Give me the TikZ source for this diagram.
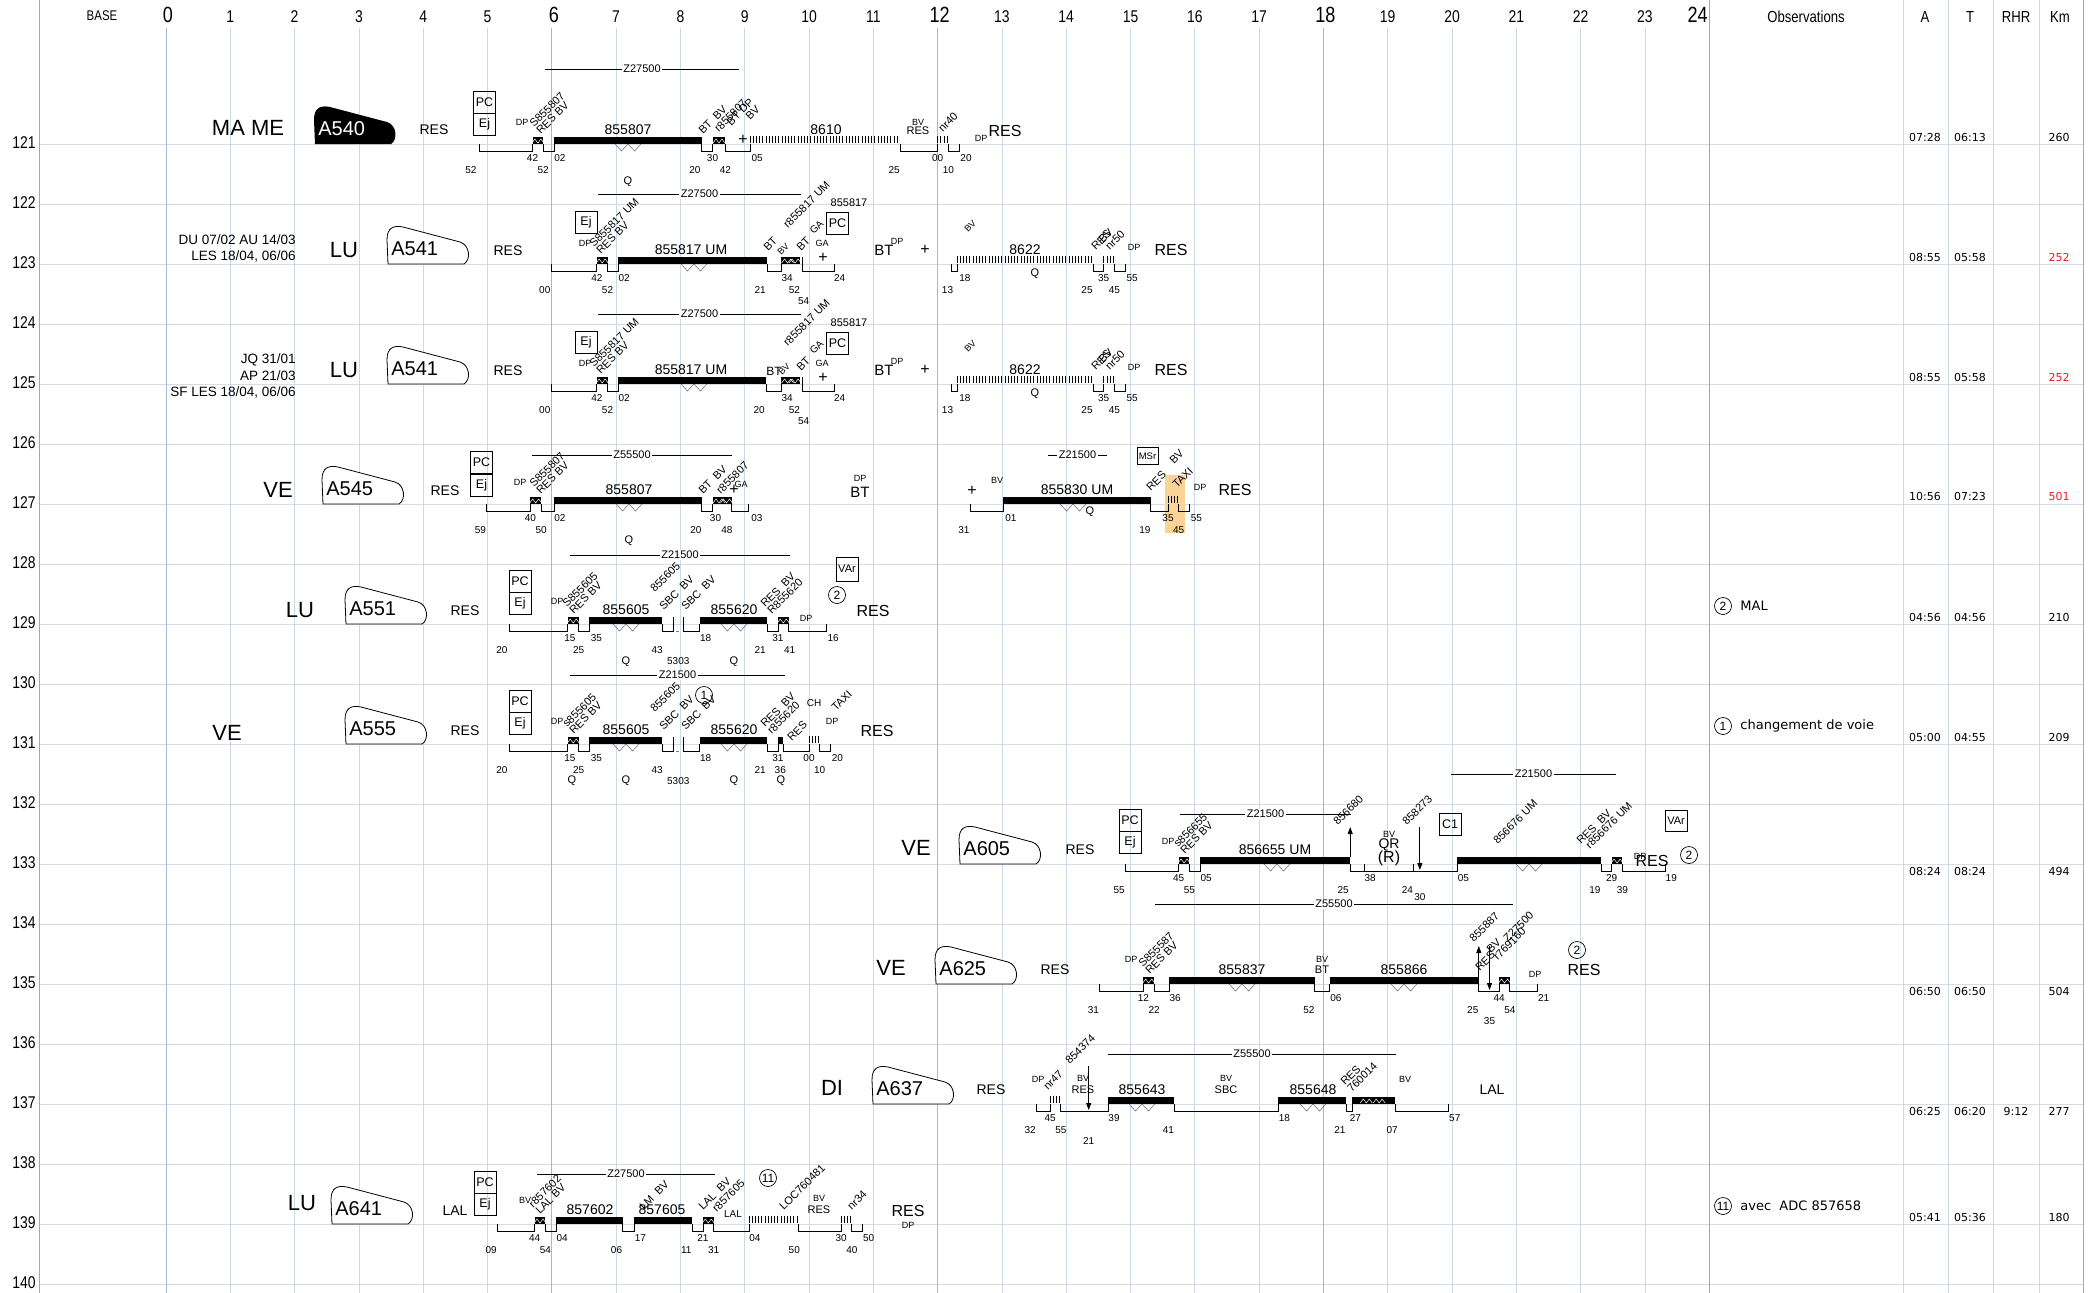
\documentclass[tikz,border=0pt]{standalone}
\usepackage{fontspec}
\usepackage{graphicx}
\setmainfont{Liberation Sans}
\newfontfamily\dejavu{DejaVu Sans}
\usetikzlibrary{arrows.meta,positioning}

\newcommand{\fs}[1]{\fontsize{#1}{#1}\selectfont}
\newcommand{\narrow}[1]{\scalebox{0.82}[1]{#1}}

\definecolor{gridh}{RGB}{212,220,234}
\definecolor{gridv}{RGB}{206,215,230}
\definecolor{gridmaj}{RGB}{170,180,212}
\definecolor{gridblue}{RGB}{158,160,230}
\definecolor{hilite}{RGB}{250,212,150}
\definecolor{kmred}{RGB}{236,28,36}

\tikzset{every picture/.style={line width=0.8pt},
  tlab/.style={font=\fs{10},inner sep=0pt},
  sml/.style={font=\fs{9},inner sep=0pt},
  trn/.style={font=\fs{14},inner sep=0pt},
  qlab/.style={font=\fs{11},inner sep=0pt},
  daylbl/.style={font=\fs{22},inner sep=0pt},
  restxt/.style={font=\fs{14},inner sep=0pt},
  bigres/.style={font=\fs{16},inner sep=0pt},
  plussym/.style={font=\fs{16},inner sep=0pt},
  bttxt/.style={font=\fs{15},inner sep=0pt},
  datetxt/.style={font=\fs{13.5},inner sep=0pt,anchor=east},
  badgetxt/.style={font=\fs{20},inner sep=0pt,anchor=west},
  rotl/.style={rotate=45,anchor=south west,align=left,inner sep=0.5pt,font=\fontsize{11}{9.5}\selectfont},
  sbox/.style={draw,line width=0.7pt,minimum width=22,minimum height=22,inner sep=0pt,font=\fs{12.5}},
  circnum/.style={draw,circle,line width=0.7pt,minimum size=17,inner sep=0pt,font=\fs{12}},
  zlab/.style={font=\fs{11},fill=white,inner sep=1.5pt},
  mealc/.style={line width=0.5pt,draw=black!60},
  arr/.style={-{Triangle[length=7pt,width=5pt]},line width=0.8pt},
  rval/.style={font=\dejavu\fs{11},inner sep=0pt},
  obs/.style={font=\dejavu\fs{13},inner sep=0pt,anchor=west},
  hdr/.style={font=\fs{16},inner sep=0pt},
}

% service pieces, \Y is the row line
\newcommand{\trb}[2]{\fill ({tx(#1)},\Y-7) rectangle ({tx(#2)},\Y);}
\newcommand{\gapb}[2]{\draw ({tx(#1)},\Y) -- ({tx(#1)},\Y+7) -- ({tx(#2)},\Y+7) -- ({tx(#2)},\Y);}
\newcommand{\hatch}[2]{\pgfmathsetmacro\xa{tx(#1)}\pgfmathsetmacro\xb{tx(#2)}\pgfmathsetmacro\xs{\xa+3.2}%
  \foreach \xx in {\xa,\xs,...,\xb} {\draw (\xx,\Y-8) -- (\xx,\Y-1);}}
\newcommand{\upl}[3][0]{\node[tlab] at ({tx(#2)+(#1)},\Y+14) {#3};}
\newcommand{\lol}[3][0]{\node[tlab] at ({tx(#2)+(#1)},\Y+26) {#3};}
\newcommand{\thl}[3][0]{\node[tlab] at ({tx(#2)+(#1)},\Y+37) {#3};}
\newcommand{\tiltl}[4][]{\node[rotl,#1] at (#2,\Y+#3) {#4};}
\newcommand{\meal}[1]{\draw[mealc] (#1-13,\Y) -- ++(6.5,7) -- ++(6.5,-7) -- ++(6.5,7) -- ++(6.5,-7);}
\newcommand{\wmeal}[1]{\draw[white,line width=0.5pt] ({tx(#1)-6},\Y-1) -- ++(3,-4) -- ++(3,4) -- ++(3,-4) -- ++(3,4);}
\newcommand{\badge}[2][draw=black,fill=white]{%
  \path[#1,line width=0.8pt] (#2+1,\Y) -- (#2,\Y-24) .. controls (#2,\Y-36) and (#2+6,\Y-39) .. (#2+16,\Y-37)
    -- (#2+73,\Y-22) .. controls (#2+83,\Y-19) and (#2+84,\Y-4) .. (#2+77,\Y) -- cycle;}
\newcommand{\zline}[4]{\draw (#1,\Y+#3) -- (#2,\Y+#3) node[zlab,midway] {#4};}
\newcommand{\rvals}[6]{\node[rval] at (1925,\Y+#1) {#2}; \node[rval] at (1970,\Y+#1) {#3};
  \node[rval] at (2016,\Y+#1) {#4}; \node[rval,text=#6] at (2059,\Y+#1) {#5};}

\begin{document}
\begin{tikzpicture}[x=1pt,y=1pt,yscale=-1,declare function={tx(\h,\m)=166+64.3*(\h+\m/60);}]
\useasboundingbox (0,0) rectangle (2094,1293);

% grid
\foreach \n in {121,...,140} {
  \pgfmathsetmacro\yy{144+60*(\n-121)}
  \draw[gridh] (39,\yy) -- (2083,\yy);
  \node[font=\fs{17},inner sep=0pt] at (24,\yy-1) {\narrow{\n}};
}
\foreach \h in {1,...,23} {\draw[gridv] ({tx(\h,0)},28) -- ({tx(\h,0)},1293);}
\foreach \h in {0,6,12,18} {\draw[gridmaj] ({tx(\h,0)},28) -- ({tx(\h,0)},1293);}
\foreach \xx in {1903,1948,1993,2039} {\draw[gridv] (\xx,0) -- (\xx,1293);}
\foreach \xx in {39,1709,2083} {\draw[gridblue] (\xx,0) -- (\xx,1293);}

% header
\node[font=\fs{14},inner sep=0pt] (base) at (102,16) {\narrow{BASE}};
\foreach \h in {1,...,5,7,8,...,11,13,14,...,17,19,20,...,23} {\node[font=\fs{17},inner sep=0pt] at ({tx(\h,0)},17) {\narrow{\h}};}
\foreach \h in {0,6,12,18} {\node[font=\fs{22},inner sep=0pt] at ({tx(\h,0)+2},15) {\narrow{\h}};}
\node[font=\fs{22},inner sep=0pt,anchor=east] (h24) at (1708,15) {\narrow{24}};
\node[hdr] (hobs) at (1806,17) {\narrow{Observations}};
\node[hdr] (ha) at (1925,17) {\narrow{A}};
\node[hdr] (ht) at (1970,17) {\narrow{T}};
\node[hdr] (hrhr) at (2016,17) {\narrow{RHR}};
\node[hdr] (hkm) at (2060,17) {\narrow{Km}};

%%%% row 121 : A540
\def\Y{144}
\node[daylbl] (d121) at (248,\Y-16) {MA ME};
\badge[fill=black]{314}
\node[badgetxt,text=white] (b121) at (318,\Y-15) {A540};
\node[restxt] (r121) at (434,\Y-14) {RES};
\node[sbox] (pc121) at (484.5,\Y-42) {PC};
\node[sbox,below=0pt of pc121] (ej121) {Ej};
\node[sml] at (522,\Y-22) {DP};
\zline{545}{739}{-75}{Z27500}
\gapb{4,52}{5,42} \trb{5,42}{5,52} \wmeal{5,47} \gapb{5,52}{6,2} \trb{6,2}{8,20}
\gapb{8,20}{8,30} \trb{8,30}{8,42} \wmeal{8,36} \gapb{8,42}{9,5} \hatch{9,5}{11,25}
\gapb{11,25}{12,0} \hatch{12,0}{12,10} \gapb{12,10}{12,20}
\lol[-8]{4,52}{52} \upl{5,42}{42} \lol{5,52}{52} \upl[6]{6,2}{02} \lol[-7]{8,20}{20}
\upl{8,30}{30} \lol{8,42}{42} \upl[7]{9,5}{05} \lol[-6]{11,25}{25} \upl{12,0}{00}
\lol{12,10}{10} \upl[7]{12,20}{20}
\node[trn] at (628,\Y-14) {855807}; \meal{628} \node[qlab] at (628,\Y+38) {Q};
\node[plussym] at (743,\Y-4) {+};
\node[trn] at (826,\Y-14) {8610};
\tiltl{541}{-8}{S855807\\RES BV}
\tiltl{703}{-8}{BT\ \ BV}
\tiltl{719}{-10}{r855807}
\tiltl{738}{-10}{BT\ DP\\\hphantom{BT\ }BV}
\tiltl{943}{-10}{nr40}
\node[sml] at (918,\Y-22) {BV}; \node[font=\fs{11},inner sep=0pt] at (918,\Y-13) {RES};
\node[sml] at (981,\Y-6) {DP}; \node[bigres] (e121) at (1005,\Y-13) {RES};
\rvals{-7}{07:28}{06:13}{}{260}{black}

%%%% row 123 : A541
\def\Y{264}
\node[datetxt] at (296,\Y-24) {DU 07/02 AU 14/03};
\node[datetxt] at (296,\Y-8) {LES 18/04, 06/06};
\node[daylbl] (d123) at (344,\Y-14) {LU};
\badge{387}
\node[badgetxt] (b123) at (391,\Y-15) {A541};
\node[restxt] (r123) at (508,\Y-13) {RES};
\node[sbox] (ej123) at (586,\Y-41.5) {Ej};
\node[sml] at (585,\Y-21) {DP};
\zline{598}{801}{-70}{Z27500}
\gapb{6,0}{6,42} \trb{6,42}{6,52} \wmeal{6,47} \gapb{6,52}{7,2} \trb{7,2}{9,21}
\gapb{9,21}{9,34} \trb{9,34}{9,52} \wmeal{9,40} \wmeal{9,47} \draw ({tx(9,54)},\Y-7) -- ({tx(9,54)},\Y);
\gapb{9,54}{10,24}
\gapb{12,13}{12,18} \hatch{12,18}{14,25} \gapb{14,25}{14,35} \hatch{14,35}{14,45} \gapb{14,45}{14,55}
\lol[-7]{6,0}{00} \upl{6,42}{42} \lol{6,52}{52} \upl[6]{7,2}{02} \lol[-7]{9,21}{21}
\upl[6]{9,34}{34} \lol[-6]{9,52}{52} \thl[1]{9,54}{54} \upl[5]{10,24}{24}
\lol[-4]{12,13}{13} \upl[8]{12,18}{18} \lol[-6]{14,25}{25} \upl{14,35}{35} \lol{14,45}{45} \upl[7]{14,55}{55}
\node[trn] at (691,\Y-14) {855817 UM}; \meal{694}
\tiltl{601}{-8}{S855817 UM\\RES BV}
\tiltl{768}{-11}{BT} \tiltl[font=\fs{9}]{781}{-7}{BV}
\tiltl{788}{-34}{r855817 UM}
\tiltl{801}{-11}{BT} \node[sml] at (822,\Y-21) {GA}; \tiltl[font=\fs{10}]{814}{-28}{GA}
\node[sbox] (pc123) at (837.5,\Y-41) {PC};
\node[font=\fs{11},inner sep=0pt] at (849,\Y-61) {855817};
\node[plussym] at (823,\Y-6) {+};
\node[bttxt] at (884,\Y-14) {BT}; \node[sml] at (897,\Y-23) {DP};
\node[plussym] at (925,\Y-14) {+};
\tiltl[font=\fs{9}]{968}{-30}{BV}
\node[trn] at (1025,\Y-14) {8622}; \node[qlab] at (1035,\Y+10) {Q};
\tiltl{1096}{-12}{RES} \tiltl{1110}{-12}{BV\\nr50}
\node[sml] at (1134,\Y-17) {DP}; \node[bigres] (e123) at (1171,\Y-14) {RES};
\rvals{-7}{08:55}{05:58}{}{252}{kmred}

%%%% row 125 : A541
\def\Y{384}
\node[datetxt] at (296,\Y-24) {JQ 31/01};
\node[datetxt] at (296,\Y-8) {AP 21/03};
\node[datetxt] at (296,\Y+8) {SF LES 18/04, 06/06};
\node[daylbl] (d125) at (344,\Y-14) {LU};
\badge{387}
\node[badgetxt] (b125) at (391,\Y-15) {A541};
\node[restxt] (r125) at (508,\Y-13) {RES};
\node[sbox] (ej125) at (586,\Y-41.5) {Ej};
\node[sml] at (585,\Y-21) {DP};
\zline{598}{801}{-70}{Z27500}
\gapb{6,0}{6,42} \trb{6,42}{6,52} \wmeal{6,47} \gapb{6,52}{7,2} \trb{7,2}{9,20}
\gapb{9,20}{9,34} \trb{9,34}{9,52} \wmeal{9,40} \wmeal{9,47} \draw ({tx(9,54)},\Y-7) -- ({tx(9,54)},\Y);
\gapb{9,54}{10,24}
\gapb{12,13}{12,18} \hatch{12,18}{14,25} \gapb{14,25}{14,35} \hatch{14,35}{14,45} \gapb{14,45}{14,55}
\lol[-7]{6,0}{00} \upl{6,42}{42} \lol{6,52}{52} \upl[6]{7,2}{02} \lol[-7]{9,20}{20}
\upl[6]{9,34}{34} \lol[-6]{9,52}{52} \thl[1]{9,54}{54} \upl[5]{10,24}{24}
\lol[-4]{12,13}{13} \upl[8]{12,18}{18} \lol[-6]{14,25}{25} \upl{14,35}{35} \lol{14,45}{45} \upl[7]{14,55}{55}
\node[trn] at (691,\Y-14) {855817 UM}; \meal{694}
\tiltl{601}{-8}{S855817 UM\\RES BV}
\node[font=\fs{12},inner sep=0pt] at (774,\Y-13) {BT}; \tiltl[font=\fs{9}]{782}{-7}{BV}
\tiltl{788}{-36}{r855817 UM}
\tiltl{801}{-11}{BT} \node[sml] at (822,\Y-21) {GA}; \tiltl[font=\fs{10}]{814}{-28}{GA}
\node[sbox] (pc125) at (837.5,\Y-41) {PC};
\node[font=\fs{11},inner sep=0pt] at (849,\Y-61) {855817};
\node[plussym] at (823,\Y-6) {+};
\node[bttxt] at (884,\Y-14) {BT}; \node[sml] at (897,\Y-23) {DP};
\node[plussym] at (925,\Y-14) {+};
\tiltl[font=\fs{9}]{968}{-30}{BV}
\node[trn] at (1025,\Y-14) {8622}; \node[qlab] at (1035,\Y+10) {Q};
\tiltl{1096}{-12}{RES} \tiltl{1110}{-12}{BV\\nr50}
\node[sml] at (1134,\Y-17) {DP}; \node[bigres] (e125) at (1171,\Y-14) {RES};
\rvals{-7}{08:55}{05:58}{}{252}{kmred}

%%%% row 127 : A545
\def\Y{504}
\fill[hilite] (1165,\Y-29) rectangle (1185,\Y+29);
\node[daylbl] (d127) at (278,\Y-14) {VE};
\badge{322}
\node[badgetxt] (b127) at (326,\Y-15) {A545};
\node[restxt] (r127) at (445,\Y-13) {RES};
\node[sbox] (pc127) at (481.5,\Y-41.5) {PC};
\node[sbox,below=0pt of pc127] (ej127) {Ej};
\node[sml] at (520,\Y-22) {DP};
\zline{532}{732}{-49}{Z55500}
\gapb{4,59}{5,40} \trb{5,40}{5,50} \wmeal{5,45} \gapb{5,50}{6,2} \trb{6,2}{8,20}
\gapb{8,20}{8,30} \trb{8,30}{8,48} \wmeal{8,36} \wmeal{8,43} \gapb{8,48}{9,3}
\lol[-6]{4,59}{59} \upl{5,40}{40} \lol{5,50}{50} \upl[6]{6,2}{02} \lol[-6]{8,20}{20}
\upl[3]{8,30}{30} \lol[-5]{8,48}{48} \upl[9]{9,3}{03}
\node[trn] at (629,\Y-14) {855807}; \meal{629} \node[qlab] at (629,\Y+37) {Q};
\node[plussym] at (734,\Y-14) {+};
\tiltl{541}{-8}{S855807\\RES BV}
\tiltl{703}{-8}{BT\ \ BV}
\tiltl{721}{-8}{r855807} \node[sml] at (741,\Y-20) {GA};
\node[sml] at (860,\Y-26) {DP}; \node[bttxt] at (860,\Y-12) {BT};
\node[plussym] at (972,\Y-13) {+};
\gapb{12,31}{13,1} \trb{13,1}{15,19} \gapb{15,19}{15,35} \hatch{15,35}{15,45} \gapb{15,45}{15,55}
\lol[-7]{12,31}{31} \upl[8]{13,1}{01} \lol[-6]{15,19}{19} \upl{15,35}{35} \lol{15,45}{45} \upl[7]{15,55}{55}
\node[sml] at (997,\Y-24) {BV};
\node[trn] at (1077,\Y-14) {855830 UM}; \meal{1073} \node[qlab] at (1090,\Y+8) {Q};
\zline{1048}{1107}{-49}{Z21500}
\node[sbox,minimum width=21,minimum height=17,font=\fs{9.5}] (msr127) at (1147.5,\Y-48) {MSr};
\tiltl{1151}{-11}{RES}
\tiltl{1174}{-38}{BV}
\tiltl{1177}{-14}{TAXI}
\node[sml] at (1200,\Y-17) {DP}; \node[bigres] (e127) at (1235,\Y-14) {RES};
\rvals{-8}{10:56}{07:23}{}{501}{kmred}

%%%% row 129 : A551
\def\Y{624}
\node[daylbl] (d129) at (300,\Y-14) {LU};
\badge{345}
\node[badgetxt] (b129) at (349,\Y-15) {A551};
\node[restxt] (r129) at (465,\Y-13) {RES};
\node[sbox] (pc129) at (520,\Y-43) {PC};
\node[sbox,below=0pt of pc129] (ej129) {Ej};
\node[sml] at (557,\Y-23) {DP};
\zline{570}{790}{-69}{Z21500}
\gapb{5,20}{6,15} \trb{6,15}{6,25} \wmeal{6,20} \gapb{6,25}{6,35} \trb{6,35}{7,43} \gapb{7,43}{7,53}
\draw ({tx(7,53)},\Y-7) -- ({tx(7,53)},\Y+7); \draw[gray] ({tx(7,56)},\Y+7) -- ({tx(7,59)},\Y+7);
\draw ({tx(8,3)},\Y-7) -- ({tx(8,3)},\Y);
\gapb{8,3}{8,18} \trb{8,18}{9,21} \gapb{9,21}{9,31} \trb{9,31}{9,41} \wmeal{9,36} \gapb{9,41}{10,16}
\lol[-7]{5,20}{20} \upl[2]{6,15}{15} \lol{6,25}{25} \upl[7]{6,35}{35} \lol[-5]{7,43}{43}
\thl{7,58}{5303} \upl[6]{8,18}{18} \lol[-7]{9,21}{21} \upl{9,31}{31} \lol[1]{9,41}{41} \upl[7]{10,16}{16}
\node[trn] at (626,\Y-14) {855605}; \meal{626} \node[qlab] at (626,\Y+38) {Q};
\node[trn] at (734,\Y-14) {855620}; \meal{734} \node[qlab] at (734,\Y+38) {Q};
\tiltl{574}{-8}{S855605\\RES BV}
\tiltl{655}{-30}{855605}
\tiltl{664}{-12}{SBC\ \ BV}
\tiltl{686}{-12}{SBC\ \ BV}
\tiltl{772}{-8}{RES\ \ BV\\R855620}
\node[sml] at (806,\Y-6) {DP};
\node[sbox,minimum height=24,font=\fs{11}] (var129) at (847,\Y-55) {VAr};
\node[circnum] (c129) at (837,\Y-29) {2};
\node[bigres] (e129) at (873,\Y-13) {RES};
\node[circnum] (o129) at (1723,\Y-18) {2};
\node[obs] at (1740,\Y-18) {MAL};
\rvals{-7}{04:56}{04:56}{}{210}{black}

%%%% row 131 : A555
\def\Y{744}
\node[daylbl] (d131) at (227,\Y-11) {VE};
\badge{345}
\node[badgetxt] (b131) at (349,\Y-15) {A555};
\node[restxt] (r131) at (465,\Y-13) {RES};
\node[sbox] (pc131) at (520,\Y-43) {PC};
\node[sbox,below=0pt of pc131] (ej131) {Ej};
\node[sml] at (557,\Y-23) {DP};
\zline{570}{785}{-69}{Z21500}
\gapb{5,20}{6,15} \trb{6,15}{6,25} \wmeal{6,20} \gapb{6,25}{6,35} \trb{6,35}{7,43} \gapb{7,43}{7,53}
\draw ({tx(7,53)},\Y-7) -- ({tx(7,53)},\Y+7); \draw[gray] ({tx(7,56)},\Y+7) -- ({tx(7,59)},\Y+7);
\draw ({tx(8,3)},\Y-7) -- ({tx(8,3)},\Y);
\gapb{8,3}{8,18} \trb{8,18}{9,21} \gapb{9,21}{9,31} \trb{9,31}{9,36} \gapb{9,36}{10,0}
\hatch{10,0}{10,10} \gapb{10,10}{10,20}
\lol[-7]{5,20}{20} \upl[2]{6,15}{15} \lol{6,25}{25} \upl[7]{6,35}{35} \lol[-5]{7,43}{43}
\thl{7,58}{5303} \upl[6]{8,18}{18} \lol[-7]{9,21}{21} \upl{9,31}{31} \lol[-3]{9,36}{36}
\upl{10,0}{00} \lol{10,10}{10} \upl[7]{10,20}{20}
\node[trn] at (626,\Y-14) {855605}; \meal{626}
\node[trn] at (734,\Y-14) {855620}; \meal{734}
\foreach \qx in {572,626,734,781} {\node[qlab] at (\qx,\Y+37) {Q};}
\tiltl{574}{-8}{s855605\\RES BV}
\tiltl{655}{-30}{855605}
\tiltl{664}{-12}{SBC\ \ BV}
\tiltl{686}{-12}{SBC\ \ BV}
\node[circnum] (c131) at (704,\Y-49) {1};
\tiltl{772}{-8}{RES\ \ BV\\r855620}
\node[font=\fs{10},inner sep=0pt] at (814,\Y-41) {CH};
\tiltl{792}{-1}{RES}
\tiltl{836}{-31}{TAXI}
\node[sml] at (832,\Y-23) {DP};
\node[bigres] (e131) at (877,\Y-13) {RES};
\node[circnum] (o131) at (1723,\Y-18) {1};
\node[obs] at (1740,\Y-18) {changement de voie};
\rvals{-7}{05:00}{04:55}{}{209}{black}

%%%% row 133 : A605
\def\Y{864}
\node[daylbl] (d133) at (916,\Y-16) {VE};
\badge{959}
\node[badgetxt] (b133) at (963,\Y-15) {A605};
\node[restxt] (r133) at (1080,\Y-14) {RES};
\node[sbox] (pc133) at (1130,\Y-44) {PC};
\node[sbox,below=0pt of pc133] (ej133) {Ej};
\node[sml] at (1168,\Y-23) {DP};
\zline{1180}{1351}{-50}{Z21500}
\zline{1451}{1616}{-90}{Z21500}
\gapb{14,55}{15,45} \trb{15,45}{15,55} \wmeal{15,50} \gapb{15,55}{16,5} \trb{16,5}{18,25}
\gapb{18,25}{20,5} \draw ({tx(18,38)},\Y+7) -- ++(0,-7); \draw ({tx(19,24)},\Y+7) -- ++(0,-7);
\trb{20,5}{22,19} \gapb{22,19}{22,29} \trb{22,29}{22,39} \wmeal{22,34} \gapb{22,39}{23,19}
\draw[arr] ({tx(18,25)},\Y-7) -- ({tx(18,25)},\Y-37);
\draw[arr] ({tx(19,30)},\Y-37) -- ({tx(19,30)},\Y+6);
\lol[-6]{14,55}{55} \upl{15,45}{45} \lol{15,55}{55} \upl[6]{16,5}{05} \lol[-7]{18,25}{25}
\upl[6]{18,38}{38} \lol[-6]{19,24}{24} \node[tlab] at ({tx(19,30)},\Y+33) {30};
\upl[6]{20,5}{05} \lol[-6]{22,19}{19} \upl{22,29}{29} \lol{22,39}{39} \upl[6]{23,19}{19}
\node[trn] at (1275,\Y-14) {856655 UM}; \meal{1277}
\meal{1529}
\tiltl{1185}{-8}{s856655\\RES BV}
\tiltl{1338}{-37}{856680}
\tiltl{1407}{-37}{858273}
\node[sml] at (1389,\Y-30) {BV}; \node[trn] at (1389,\Y-19) {QR};
\node[font=\fs{16},inner sep=0pt] at (1389,\Y-6) {(R)};
\node[sbox] (c1133) at (1450,\Y-40) {C1};
\tiltl{1498}{-18}{856676 UM}
\tiltl{1588}{-11}{RES\ \ BV\\\ r856676 UM}
\node[sml] at (1640,\Y-8) {DP}; \node[bigres] (e133) at (1652,\Y-3) {RES};
\node[circnum] (c133) at (1689,\Y-9) {2};
\node[sbox,minimum height=21,font=\fs{11}] (var133) at (1676,\Y-43) {VAr};
\rvals{7}{08:24}{08:24}{}{494}{black}

%%%% row 135 : A625
\def\Y{984}
\node[daylbl] (d135) at (891,\Y-16) {VE};
\badge{935}
\node[badgetxt] (b135) at (939,\Y-15) {A625};
\node[restxt] (r135) at (1055,\Y-14) {RES};
\node[sml] at (1131,\Y-25) {DP};
\zline{1155}{1513}{-80}{Z55500}
\gapb{14,31}{15,12} \trb{15,12}{15,22} \wmeal{15,17} \gapb{15,22}{15,36} \trb{15,36}{17,52}
\gapb{17,52}{18,6} \trb{18,6}{20,25} \gapb{20,25}{20,44} \trb{20,44}{20,54} \wmeal{20,49} \gapb{20,54}{21,20}
\draw[arr] ({tx(20,25)},\Y-7) -- ({tx(20,25)},\Y-38);
\draw[arr] ({tx(20,35)},\Y-38) -- ({tx(20,35)},\Y+6);
\lol[-6]{14,31}{31} \upl{15,12}{12} \lol{15,22}{22} \upl[6]{15,36}{36} \lol[-6]{17,52}{52}
\upl[6]{18,6}{06} \lol[-6]{20,25}{25} \thl{20,35}{35} \upl{20,44}{44} \lol{20,54}{54} \upl[6]{21,20}{21}
\node[trn] at (1242,\Y-14) {855837}; \meal{1242}
\node[trn] at (1404,\Y-14) {855866}; \meal{1404}
\node[sml] at (1322,\Y-25) {BV}; \node[font=\fs{11},inner sep=0pt] at (1322,\Y-14) {BT};
\tiltl{1150}{-8}{S855587\\RES BV}
\tiltl{1474}{-40}{855887}
\tiltl{1480}{-11}{RES}
\tiltl{1498}{-22}{BV\\r769160}
\tiltl{1508}{-40}{Z27500}
\node[sml] at (1535,\Y-10) {DP};
\node[circnum] (c135) at (1577,\Y-34) {2};
\node[bigres] (e135) at (1584,\Y-14) {RES};
\rvals{7}{06:50}{06:50}{}{504}{black}

%%%% row 137 : A637
\def\Y{1104}
\node[daylbl] (d137) at (832,\Y-16) {DI};
\badge{872}
\node[badgetxt] (b137) at (876,\Y-15) {A637};
\node[restxt] (r137) at (991,\Y-14) {RES};
\node[sml] at (1038,\Y-25) {DP};
\zline{1108}{1396}{-50}{Z55500}
\gapb{13,32}{13,45} \hatch{13,45}{13,55} \gapb{13,55}{14,39}
\draw[arr] ({tx(14,21)},\Y-38) -- ({tx(14,21)},\Y+6);
\trb{14,39}{15,41} \gapb{15,41}{17,18} \trb{17,18}{18,21} \gapb{18,21}{18,27} \trb{18,27}{19,7}
\wmeal{18,40} \wmeal{18,52} \gapb{19,7}{19,57}
\lol[-6]{13,32}{32} \upl{13,45}{45} \lol{13,55}{55} \thl{14,21}{21} \upl[6]{14,39}{39}
\lol[-6]{15,41}{41} \upl[6]{17,18}{18} \lol[-6]{18,21}{21} \upl[3]{18,27}{27} \lol[-3]{19,7}{07} \upl[6]{19,57}{57}
\tiltl{1048}{-12}{nr47}
\tiltl{1070}{-38}{854374}
\node[sml] at (1083,\Y-26) {BV}; \node[font=\fs{11},inner sep=0pt] at (1083,\Y-14) {RES};
\node[trn] at (1142,\Y-14) {855643}; \meal{1142}
\node[sml] at (1226,\Y-26) {BV}; \node[font=\fs{11},inner sep=0pt] at (1226,\Y-14) {SBC};
\node[trn] at (1313,\Y-14) {855648}; \meal{1313}
\tiltl{1352}{-10}{RES\\760014}
\node[sml] at (1405,\Y-25) {BV};
\node[restxt] (e137) at (1492,\Y-14) {LAL};
\rvals{7}{06:25}{06:20}{9:12}{277}{black}

%%%% row 139 : A641
\def\Y{1224}
\node[daylbl] (d139) at (302,\Y-21) {LU};
\badge{331}
\node[badgetxt] (b139) at (335,\Y-15) {A641};
\node[restxt] (r139) at (455,\Y-13) {LAL};
\node[sbox] (pc139) at (485,\Y-42) {PC};
\node[sbox,below=0pt of pc139] (ej139) {Ej};
\node[sml] at (525,\Y-24) {BV};
\zline{537}{715}{-50}{Z27500}
\gapb{5,9}{5,44} \trb{5,44}{5,54} \wmeal{5,49} \gapb{5,54}{6,4} \trb{6,4}{7,6} \gapb{7,6}{7,17}
\trb{7,17}{8,11} \gapb{8,11}{8,21} \trb{8,21}{8,31} \wmeal{8,26} \gapb{8,31}{9,4} \hatch{9,4}{9,50}
\gapb{9,50}{10,30} \hatch{10,30}{10,40} \gapb{10,40}{10,50}
\lol[-6]{5,9}{09} \upl{5,44}{44} \lol{5,54}{54} \upl[6]{6,4}{04} \lol[-6]{7,6}{06} \upl[6]{7,17}{17}
\lol[-6]{8,11}{11} \upl{8,21}{21} \lol{8,31}{31} \upl[6]{9,4}{04} \lol[-4]{9,50}{50} \upl{10,30}{30}
\lol{10,40}{40} \upl[6]{10,50}{50}
\node[trn] at (590,\Y-14) {857602}; \node[trn] at (662,\Y-14) {857605};
\tiltl{540}{-8}{r857602\\LAL BV}
\tiltl{644}{-12}{LM\ \ BV}
\tiltl{703}{-12}{LAL\ \ BV}
\tiltl{717}{-10}{r857605}
\node[font=\fs{10},inner sep=0pt] at (733,\Y-10) {LAL};
\node[circnum] (c139) at (768,\Y-46) {11};
\tiltl{784}{-12}{LOC760481}
\node[sml] at (819,\Y-26) {BV}; \node[font=\fs{11},inner sep=0pt] at (819,\Y-14) {RES};
\tiltl{852}{-12}{nr34}
\node[sml] at (908,\Y+1) {DP}; \node[bigres] (e139) at (908,\Y-13) {RES};
\node[circnum] (o139) at (1723,\Y-18) {11};
\node[obs] at (1740,\Y-18) {avec\ \ ADC 857658};
\rvals{-7}{05:41}{05:36}{}{180}{black}

\end{tikzpicture}
\end{document}
